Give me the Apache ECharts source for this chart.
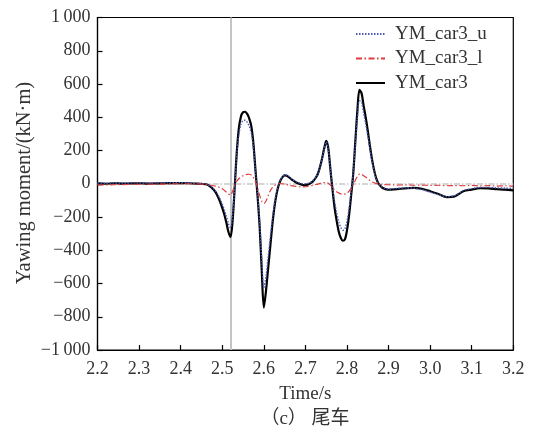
<!DOCTYPE html>
<html>
<head>
<meta charset="utf-8">
<script src="https://cdn.jsdelivr.net/npm/echarts@6/dist/echarts.min.js"></script>
<style>html,body{margin:0;padding:0;background:#fff;}#c{width:537px;height:434px;}</style>
</head>
<body>
<div id="c"></div>
<script>
const times = [2.20,2.22,2.24,2.26,2.28,2.30,2.32,2.34,2.36,2.38,2.40,2.42,2.44,2.45,
  2.46,2.465,2.47,2.475,2.48,2.485,2.49,2.495,2.50,
  2.505,2.51,2.515,2.52,2.525,2.53,2.535,2.54,2.545,2.55,
  2.555,2.56,2.565,2.57,2.575,2.58,2.585,2.59,2.595,2.60,
  2.605,2.61,2.615,2.62,2.625,2.63,2.635,2.64,2.645,2.65,
  2.655,2.66,2.665,2.67,2.675,2.68,2.685,2.69,2.695,2.70,
  2.705,2.71,2.715,2.72,2.725,2.73,2.735,2.74,2.745,2.75,
  2.755,2.76,2.765,2.77,2.775,2.78,2.785,2.79,2.795,2.80,
  2.805,2.81,2.815,2.82,2.825,2.83,2.835,2.84,2.845,2.85,
  2.855,2.86,2.865,2.87,2.875,2.88,2.885,2.89,2.895,2.90,
  2.92,2.94,2.96,2.98,3.00,3.02,3.04,3.06,3.08,3.10,3.12,3.14,3.16,3.18,3.20];

const ymCar3 = [2,0,3,1,2,3,1,2,3,4,4,3,1,-1,
  -3,-6,-15,-25,-38,-55,-80,-110,-145,
  -185,-235,-290,-320,-220,-20,190,335,405,430,
  433,420,392,345,240,80,-75,-260,-520,-745,
  -650,-520,-390,-260,-150,-70,-15,20,40,50,
  48,40,30,20,12,5,0,-5,-8,-8,
  -5,0,8,20,36,60,100,150,210,258,
  215,90,-30,-140,-220,-285,-325,-343,-335,-280,
  -190,-70,60,250,440,565,545,470,400,320,
  230,150,85,35,5,-12,-24,-30,-34,-36,
  -32,-28,-25,-30,-45,-62,-80,-75,-45,-35,-27,-28,-32,-35,-40];

const ymCar3U = [5,3,5,4,5,5,4,6,5,6,6,4,2,0,
  -2,-5,-12,-20,-32,-47,-68,-92,-122,
  -155,-195,-240,-265,-185,-20,175,295,358,380,
  382,370,345,305,215,75,-60,-230,-450,-625,
  -560,-450,-335,-225,-130,-55,-8,25,43,53,
  52,45,35,25,17,10,5,2,0,0,
  2,6,13,25,40,62,100,148,205,252,
  210,90,-15,-105,-170,-225,-262,-280,-270,-225,
  -150,-45,70,230,395,500,490,425,360,290,
  210,135,75,30,3,-10,-20,-26,-30,-32,
  -28,-25,-27,-35,-50,-65,-78,-70,-40,-30,-22,-22,-25,-26,-28];

const ymCar3L = [-8,-7,-6,-5,-4,-3,-3,-2,-2,-1,0,0,-1,-2,
  -4,-6,-8,-10,-12,-15,-18,-24,-30,
  -40,-50,-62,-68,-45,-10,15,30,40,48,
  53,56,57,52,38,12,-25,-70,-105,-119,
  -105,-75,-45,-25,-12,-5,-1,0,0,-2,
  -5,-8,-11,-13,-15,-17,-18,-19,-19,-18,
  -16,-14,-11,-8,-5,-2,2,5,7,7,
  3,-8,-22,-38,-48,-55,-61,-63,-62,-58,
  -45,-28,-5,20,45,58,57,48,40,30,
  20,12,6,2,-1,-3,-4,-5,-6,-6,
  -8,-7,-9,-8,-10,-9,-12,-11,-12,-10,-13,-11,-14,-12,-15];

const seriesNames = ['YM_car3_u','YM_car3_l','YM_car3'];
const xTicks = {min: 2.2, max: 3.2, step: 0.1};
const yTicks = {min: -1000, max: 1000, step: 200};
const markTime = 2.52;
const xName = 'Time/s';
const yName = 'Yawing moment/(kN·m)';
const caption = '（c） 尾车';

const pair = (xs, ys) => xs.map((x, i) => [x, ys[i]]);
const SERIF = '"Liberation Serif", "Times New Roman", serif';

const chart = echarts.init(document.getElementById('c'), null, {renderer: 'canvas'});
chart.setOption({
  animation: false,
  backgroundColor: '#fff',
  grid: {left: 97.5, right: 23.7, top: 17.5, bottom: 84, show: true, borderColor: '#000', borderWidth: 1.2},
  legend: {
    data: seriesNames,
    orient: 'vertical',
    left: 355, top: 24, padding: 0,
    itemWidth: 29, itemHeight: 14, itemGap: 4.5,
    itemStyle: {opacity: 0, borderWidth: 0},
    textStyle: {fontFamily: SERIF, fontSize: 19, color: '#333', lineHeight: 20, padding: [0,0,0,5]}
  },
  xAxis: {
    type: 'value', min: xTicks.min, max: xTicks.max, interval: xTicks.step,
    name: xName, nameLocation: 'middle', nameGap: 35,
    nameTextStyle: {fontFamily: SERIF, fontSize: 19, color: '#333'},
    axisLine: {onZero: false, lineStyle: {color: '#000', width: 1.2}},
    axisTick: {inside: true, length: 5, lineStyle: {color: '#000', width: 1.2}},
    axisLabel: {fontFamily: SERIF, fontSize: 18, color: '#333', margin: 10, formatter: v => v.toFixed(1)},
    splitLine: {show: false}
  },
  yAxis: {
    type: 'value', min: yTicks.min, max: yTicks.max, interval: yTicks.step,
    axisLine: {onZero: false, lineStyle: {color: '#000', width: 1.2}},
    axisTick: {inside: true, length: 5, lineStyle: {color: '#000', width: 1.2}},
    axisLabel: {fontFamily: SERIF, fontSize: 18, color: '#333', margin: 7,
      formatter: v => {
        const a = Math.abs(v);
        const s = a >= 1000 ? Math.floor(a/1000) + '\u2009' + String(a % 1000).padStart(3, '0') : String(a);
        return (v < 0 ? '\u2212' : '') + s;
      }},
    splitLine: {show: false}
  },
  series: [
    {
      name: seriesNames[0], type: 'line', data: pair(times, ymCar3U), smooth: 0.3, symbol: 'none', z: 4,
      lineStyle: {color: '#4a5cb8', width: 1.4, type: [1.5, 1.5]}, itemStyle: {color: '#4a5cb8'}
    },
    {
      name: seriesNames[1], type: 'line', data: pair(times, ymCar3L), smooth: 0.3, symbol: 'none', z: 5,
      lineStyle: {color: '#e03a3a', width: 1.2, type: [6, 2.5, 1.5, 2.5]}, itemStyle: {color: '#e03a3a'}
    },
    {
      name: seriesNames[2], type: 'line', data: pair(times, ymCar3), smooth: 0.3, symbol: 'none', z: 3,
      lineStyle: {color: '#000', width: 2.2}, itemStyle: {color: '#000'},
      markLine: {
        silent: true, symbol: 'none', label: {show: false}, z: 1,
        data: [
          {xAxis: markTime, lineStyle: {color: '#c4c4c4', width: 2, type: 'solid'}},
          {yAxis: 0, lineStyle: {color: '#c8c8c8', width: 1.5, type: [6, 2, 1.5, 2]}}
        ]
      }
    }
  ],
  graphic: [
    {
      type: 'text', x: 305, y: 419,
      style: {text: caption, align: 'center', verticalAlign: 'middle', fontFamily: '"Liberation Serif", "Noto Sans CJK SC", serif', fontSize: 19, fill: '#333'}
    },
    {
      type: 'text', x: 25, y: 183, rotation: Math.PI / 2,
      style: {text: yName, align: 'center', verticalAlign: 'middle', fontFamily: SERIF, fontSize: 20.5, fill: '#333'}
    }
  ]
});
</script>
</body>
</html>
